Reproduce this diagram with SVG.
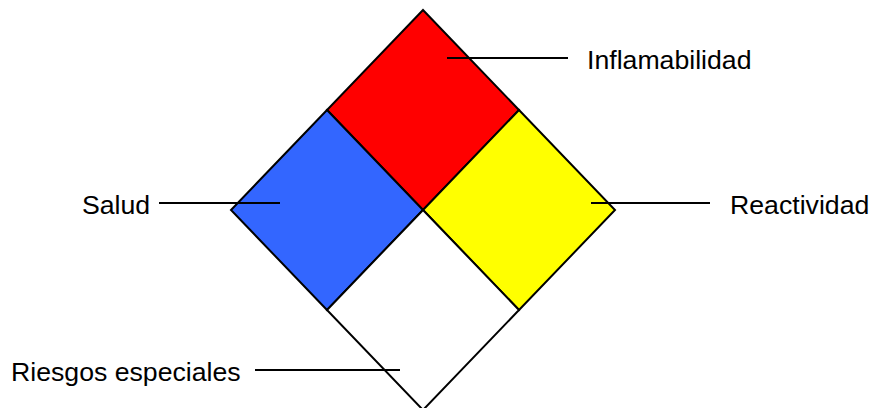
<svg xmlns="http://www.w3.org/2000/svg" width="872" height="408" viewBox="0 0 872 408">
<style>
.q{stroke:#000;stroke-width:2;stroke-linejoin:miter}
.l{stroke:#000;stroke-width:2;fill:none}
text{font-family:"Liberation Sans",Arial,sans-serif;font-size:26.67px;fill:#000}
</style>
<rect width="872" height="408" fill="#fff"/>
<g id="inflamabilidad"><polygon class="q" fill="#FF0000" points="423,10 519,110 423,210 327,110"/></g>
<g id="salud"><polygon class="q" fill="#3366FF" points="327,110 423,210 327,310 231,210"/></g>
<g id="reactividad"><polygon class="q" fill="#FFFF00" points="519,110 615,210 519,310 423,210"/></g>
<g id="especiales"><polygon class="q" fill="#FFFFFF" points="423,210 519,310 423,410 327,310"/></g>
<g id="connectors">
<line class="l" x1="447" y1="58" x2="568" y2="58"/>
<line class="l" x1="159" y1="203" x2="280" y2="203"/>
<line class="l" x1="591" y1="203" x2="710" y2="203"/>
<line class="l" x1="255" y1="370" x2="400" y2="370"/>
</g>
<g id="labels">
<text x="587" y="69">Inflamabilidad</text>
<text x="82" y="214">Salud</text>
<text x="730" y="214">Reactividad</text>
<text x="11" y="381">Riesgos especiales</text>
</g>
</svg>
